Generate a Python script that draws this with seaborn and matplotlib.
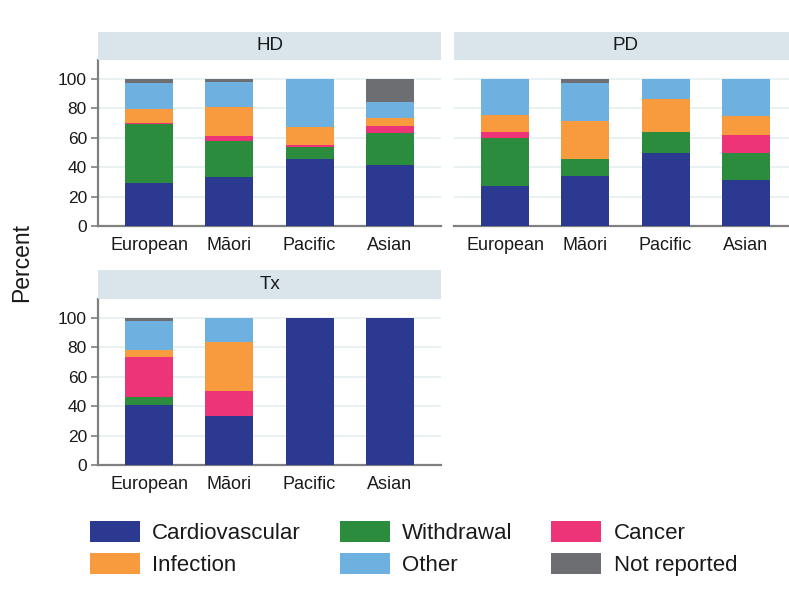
import matplotlib
matplotlib.use("Agg")
import matplotlib.pyplot as plt
from matplotlib.patches import Patch
import numpy as np
import pandas as pd
import seaborn as sns

# Ethnic groups (x axis) and causes of death (stacked bottom -> top)
groups = ["European", "Māori", "Pacific", "Asian"]
causes = ["Cardiovascular", "Withdrawal", "Cancer", "Infection", "Other", "Not reported"]
colors = ["#2b3990", "#2a8c3c", "#ee3479", "#f89a3e", "#6eb1e1", "#6d6e71"]

# Percent of deaths by cause, haemodialysis (HD)
hd_cardiovascular = [29, 33.5, 45.5, 41.5]
hd_withdrawal = [40, 24, 8, 21.5]
hd_cancer = [1, 3.5, 1.5, 5]
hd_infection = [9.5, 19.5, 12, 5.5]
hd_other = [17.5, 17.5, 33, 10.5]
hd_not_reported = [3, 2, 0, 16]

# Peritoneal dialysis (PD)
pd_cardiovascular = [27, 34, 49.5, 31]
pd_withdrawal = [33, 11.5, 14.5, 18.5]
pd_cancer = [3.5, 0, 0, 12.5]
pd_infection = [12, 26, 22, 13]
pd_other = [24.5, 25.5, 14, 25]
pd_not_reported = [0, 3, 0, 0]

# Transplant (Tx)
tx_cardiovascular = [41, 33.3, 100, 100]
tx_withdrawal = [5, 0, 0, 0]
tx_cancer = [27, 16.7, 0, 0]
tx_infection = [5, 33.3, 0, 0]
tx_other = [19.5, 16.7, 0, 0]
tx_not_reported = [2.5, 0, 0, 0]

modalities = {
    "HD": [hd_cardiovascular, hd_withdrawal, hd_cancer, hd_infection, hd_other, hd_not_reported],
    "PD": [pd_cardiovascular, pd_withdrawal, pd_cancer, pd_infection, pd_other, pd_not_reported],
    "Tx": [tx_cardiovascular, tx_withdrawal, tx_cancer, tx_infection, tx_other, tx_not_reported],
}

rows = []
for mod, series in modalities.items():
    for cause, vals in zip(causes, series):
        for g, v in zip(groups, vals):
            rows.append({"modality": mod, "group": g, "cause": cause, "pct": v})
df = pd.DataFrame(rows)
df["cause"] = pd.Categorical(df["cause"], categories=causes, ordered=True)
df = df.sort_values(["modality", "group", "cause"])
df["top"] = df.groupby(["modality", "group"], observed=True)["pct"].cumsum()

sns.set_theme(style="white")
plt.rcParams["font.family"] = ["Liberation Sans", "DejaVu Sans"]
text_col = "#1a1a1a"
spine_col = "#808080"

W, H = 789, 607
fig = plt.figure(figsize=(W / 100, H / 100), dpi=100)


def box(left, top, right, bottom):
    return [left / W, 1 - bottom / H, (right - left) / W, (bottom - top) / H]


panels = {
    "HD": dict(ax=(98, 60, 441, 226), strip=(98, 32, 441, 60), ylab=True),
    "PD": dict(ax=(454, 60, 797, 226), strip=(454, 32, 797, 60), ylab=False),
    "Tx": dict(ax=(98, 299, 441, 465), strip=(98, 270, 441, 299), ylab=True),
}

for mod, spec in panels.items():
    ax = fig.add_axes(box(*spec["ax"]))
    sub = df[df["modality"] == mod]
    # Overlap cumulative bars from the top layer down to get stacks
    for cause, col in reversed(list(zip(causes, colors))):
        layer = sub[sub["cause"] == cause]
        sns.barplot(data=layer, x="group", y="top", order=groups, color=col,
                    saturation=1, width=0.6, linewidth=0, ax=ax, zorder=3)
    ax.set_xlim(-0.64, 3.64)
    ax.set_ylim(0, 112.7)
    ax.set_yticks([0, 20, 40, 60, 80, 100])
    for y in [20, 40, 60, 80, 100]:
        ax.axhline(y, color="#e4eef0", lw=1.1, zorder=1)
    ax.set_xlabel("")
    ax.set_ylabel("")
    for s in ["top", "right"]:
        ax.spines[s].set_visible(False)
    ax.spines["bottom"].set_color(spine_col)
    ax.spines["bottom"].set_linewidth(1.6)
    ax.tick_params(axis="x", length=0, pad=8, labelsize=13, labelcolor=text_col)
    if spec["ylab"]:
        ax.spines["left"].set_color(spine_col)
        ax.spines["left"].set_linewidth(1.6)
        ax.tick_params(axis="y", length=5, width=1.2, color=spine_col, pad=3,
                       labelsize=12.5, labelcolor=text_col, left=True)
    else:
        ax.spines["left"].set_visible(False)
        ax.tick_params(axis="y", length=0, labelleft=False)
    ax.set_facecolor("white")

    # Facet header strip
    sax = fig.add_axes(box(*spec["strip"]))
    sax.set_facecolor("#d9e5eb")
    for s in sax.spines.values():
        s.set_visible(False)
    sax.set_xticks([])
    sax.set_yticks([])
    sax.text(0.5, 0.5, mod, ha="center", va="center", fontsize=13.5,
             color=text_col, transform=sax.transAxes)

fig.text(22 / W, 1 - 263 / H, "Percent", rotation=90, ha="center", va="center",
         fontsize=16.5, color=text_col)

order = [0, 3, 1, 4, 2, 5]
handles = [Patch(facecolor=colors[i], edgecolor="none") for i in order]
labels = [causes[i] for i in order]
fig.legend(handles, labels, ncol=3, loc="upper left",
           bbox_to_anchor=(90 / W, 1 - 521 / H), frameon=False,
           borderpad=0, borderaxespad=0, fontsize=16.0, handlelength=2.25,
           handleheight=1.1, handletextpad=0.55, columnspacing=1.75,
           labelspacing=0.38, labelcolor=text_col)

fig.savefig("out.png", dpi=100)
